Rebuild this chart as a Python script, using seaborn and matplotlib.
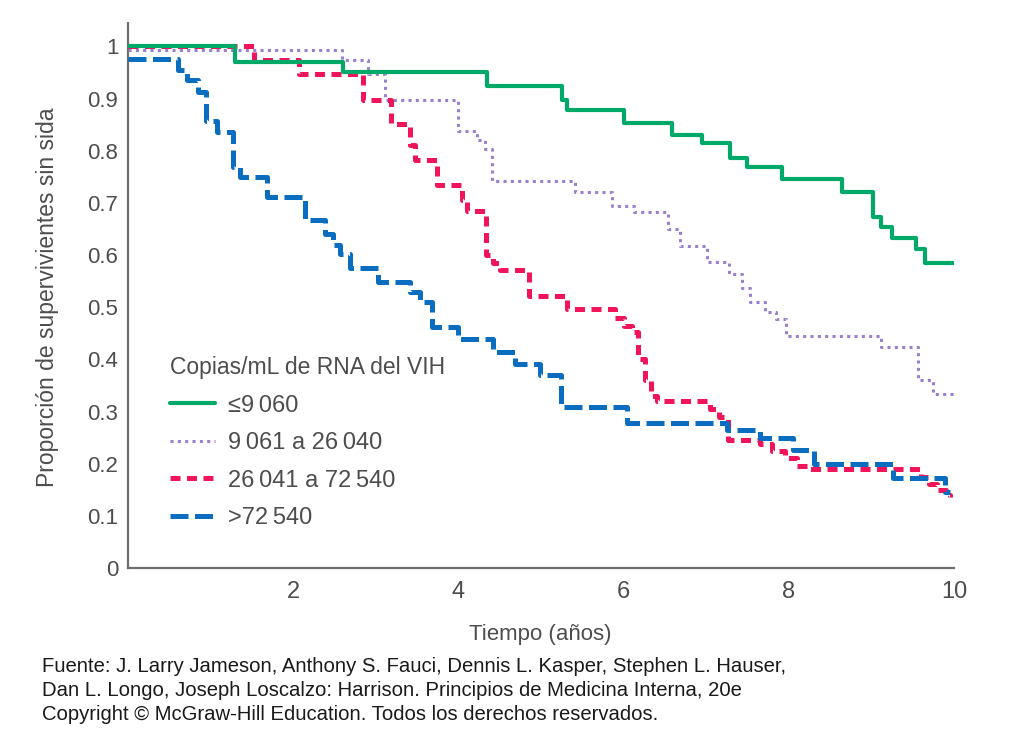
import numpy as np
import pandas as pd
import matplotlib
matplotlib.use("Agg")
import matplotlib.pyplot as plt
import seaborn as sns

# Kaplan-Meier style curves (time in years, proportion)
t_low = [0, 1.30, 2.60, 4.35, 5.26, 5.31, 6.01, 6.59, 6.95, 7.29, 7.50, 7.92,
         8.65, 9.02, 9.12, 9.25, 9.54, 9.65, 10.0]
s_low = [1.0, 0.970, 0.951, 0.925, 0.897, 0.879, 0.854, 0.831, 0.814, 0.787,
         0.768, 0.745, 0.721, 0.673, 0.654, 0.632, 0.611, 0.585, 0.585]

t_mid = [0, 2.59, 2.90, 3.11, 4.00, 4.22, 4.32, 4.41, 5.41, 5.86, 6.13, 6.54,
         6.68, 7.01, 7.28, 7.43, 7.53, 7.71, 7.85, 7.97, 9.12, 9.57, 9.75, 10.0]
s_mid = [0.993, 0.975, 0.948, 0.897, 0.837, 0.821, 0.803, 0.743, 0.721, 0.695,
         0.682, 0.650, 0.618, 0.587, 0.563, 0.536, 0.510, 0.491, 0.478, 0.444,
         0.424, 0.360, 0.333, 0.333]

t_high = [0, 1.52, 2.07, 2.84, 3.18, 3.41, 3.47, 3.74, 4.04, 4.10, 4.34, 4.42,
          4.50, 4.85, 5.31, 5.90, 6.00, 6.10, 6.18, 6.26, 6.33, 6.40, 7.05,
          7.15, 7.26, 7.65, 7.80, 7.95, 8.10, 8.22, 9.60, 9.70, 9.80, 9.90, 9.95]
s_high = [1.0, 0.975, 0.948, 0.897, 0.851, 0.812, 0.783, 0.734, 0.705, 0.685,
          0.600, 0.585, 0.571, 0.521, 0.497, 0.480, 0.465, 0.453, 0.400, 0.360,
          0.330, 0.320, 0.305, 0.290, 0.245, 0.238, 0.225, 0.210, 0.195, 0.190,
          0.175, 0.162, 0.150, 0.140, 0.137]

t_top = [0, 0.61, 0.72, 0.85, 0.95, 1.08, 1.27, 1.36, 1.68, 2.14, 2.38, 2.48,
         2.57, 2.69, 3.03, 3.41, 3.54, 3.68, 4.00, 4.42, 4.69, 4.99, 5.24,
         6.04, 7.25, 7.65, 8.05, 8.30, 9.26, 9.89, 9.95]
s_top = [0.976, 0.955, 0.935, 0.912, 0.858, 0.836, 0.769, 0.750, 0.711, 0.667,
         0.640, 0.620, 0.603, 0.576, 0.549, 0.530, 0.510, 0.462, 0.440, 0.414,
         0.392, 0.370, 0.309, 0.278, 0.264, 0.250, 0.226, 0.200, 0.172, 0.146,
         0.146]

labels = ["\u22649\u2009060", "9\u2009061 a 26\u2009040",
          "26\u2009041 a 72\u2009540", ">72\u2009540"]
legend_title = "Copias/mL de RNA del VIH"
x_ticks = [2, 4, 6, 8, 10]
y_ticks = [0, 0.1, 0.2, 0.3, 0.4, 0.5, 0.6, 0.7, 0.8, 0.9, 1]
y_ticklabels = ["0", "0.1", "0.2", "0.3", "0.4", "0.5", "0.6", "0.7", "0.8", "0.9", "1"]
source_lines = [
    "Fuente: J. Larry Jameson, Anthony S. Fauci, Dennis L. Kasper, Stephen L. Hauser,",
    "Dan L. Longo, Joseph Loscalzo: Harrison. Principios de Medicina Interna, 20e",
    "Copyright \u00a9 McGraw-Hill Education. Todos los derechos reservados.",
]

sns.set_style("white")
plt.rcParams["font.family"] = ["Liberation Sans", "DejaVu Sans"]
narrow = ["Liberation Sans Narrow", "Liberation Sans", "DejaVu Sans"]

fig = plt.figure(figsize=(10.24, 7.47), dpi=100)
ax = fig.add_axes([0.125, 0.2396, 0.8066, 0.7296])

styles = [
    (t_low, s_low, "#00a968", 3.0, None, 5),
    (t_mid, s_mid, "#9a7fcc", 2.2, (1.0, 1.4), 3),
    (t_high, s_high, "#f0145a", 3.6, (2.0, 1.3), 3),
    (t_top, s_top, "#0a6dbf", 3.6, (3.6, 1.3), 3),
]
for (t, s, col, lw, dash, z), lab in zip(styles, labels):
    df = pd.DataFrame({"t": t, "s": s})
    sns.lineplot(data=df, x="t", y="s", ax=ax, color=col, linewidth=lw,
                 drawstyle="steps-post", estimator=None, label=lab, zorder=z)
    line = ax.lines[-1]
    if dash is not None:
        line.set_dashes(dash)

ax.set_xlim(0, 10)
ax.set_ylim(0, 1.045)
ax.set_xticks(x_ticks)
ax.set_xticklabels([str(v) for v in x_ticks], family=narrow, fontsize=17, color="#4d4d4d")
ax.set_yticks(y_ticks)
ax.set_yticklabels(y_ticklabels, fontsize=16, color="#4d4d4d")
ax.tick_params(axis="both", direction="in", length=16, width=1.6, color="#6e6e6e")
ax.tick_params(axis="y", pad=7)
ax.tick_params(axis="x", pad=9)
sns.despine(ax=ax)
for sp in ["left", "bottom"]:
    ax.spines[sp].set_color("#6e6e6e")
    ax.spines[sp].set_linewidth(1.6)

ax.set_xlabel("Tiempo (a\u00f1os)", family=narrow, fontsize=16, color="#4d4d4d")
ax.xaxis.set_label_coords(0.499, -0.103)
ax.xaxis.label.set_va("top")
ax.set_ylabel("Proporci\u00f3n de supervivientes sin sida", fontsize=16.5, color="#4d4d4d")
ax.yaxis.set_label_coords(-0.084, 0.497)

leg = ax.legend(title=legend_title, loc="upper left", bbox_to_anchor=(0.051, 0.389),
                frameon=False, fontsize=17, title_fontsize=16.5, borderpad=0,
                borderaxespad=0, handlelength=1.9, handletextpad=0.55,
                labelspacing=0.66, alignment="left")
for txt in leg.get_texts():
    txt.set_color("#4d4d4d")
leg.get_title().set_color("#4d4d4d")

for i, line in enumerate(source_lines):
    fig.text(42 / 1024, 1 - (667 + 24 * i) / 747, line, family=narrow,
             fontsize=14.6, color="#1a1a1a", va="center", ha="left")

fig.savefig("out.png", dpi=100, facecolor="white")
